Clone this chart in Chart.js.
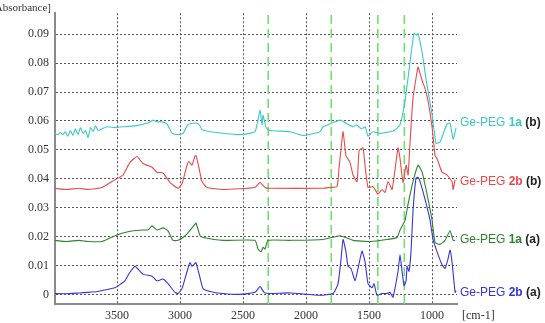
<!DOCTYPE html>
<html>
<head>
<meta charset="utf-8">
<script src="https://cdn.jsdelivr.net/npm/chart.js@4.4.0/dist/chart.umd.min.js"></script>
<style>
  html, body { margin: 0; padding: 0; background: #fff; }
  canvas { display: block; }
</style>
</head>
<body>
<canvas id="irChart" width="545" height="323"></canvas>
<script>
// wavenumber [cm-1] / absorbance pairs
var cyan_wn = [3992,3970,3950,3930,3910,3890,3870,3850,3830,3810,3790,3770,3750,3730,3710,3690,3670,3650,3619,3580,3516,3450,3357,3254,3214,3183,3143,3103,3063,3016,2976,2937,2881,2857,2841,2825,2706,2524,2405,2365,2349,2341,2317,2286,2127,2024,1889,1865,1730,1700,1627,1600,1560,1530,1508,1470,1413,1373,1333,1300,1254,1214,1175,1143,1119,1111,1079,1040,1000,968,937,881,857,833,809];
var cyan_abs = [0.0557,0.0553,0.056,0.0553,0.0563,0.0547,0.0567,0.055,0.0573,0.0553,0.0577,0.0557,0.0567,0.0543,0.0577,0.0563,0.0583,0.0567,0.0573,0.058,0.0577,0.058,0.0583,0.0593,0.0603,0.0597,0.0597,0.059,0.0557,0.0553,0.0557,0.0587,0.0593,0.059,0.0583,0.057,0.056,0.0553,0.0563,0.0637,0.0587,0.062,0.0577,0.0567,0.0563,0.055,0.0563,0.058,0.0603,0.0597,0.058,0.0587,0.0573,0.058,0.0547,0.0563,0.0557,0.056,0.0563,0.0567,0.0587,0.067,0.0803,0.0903,0.0897,0.0903,0.0837,0.0723,0.0623,0.0523,0.0527,0.059,0.0593,0.0537,0.0577];

var red_wn = [3992,3900,3800,3730,3619,3516,3452,3397,3341,3294,3222,3183,3135,3079,3016,2984,2944,2929,2905,2881,2873,2857,2825,2786,2659,2405,2365,2325,2286,1865,1810,1754,1738,1722,1706,1683,1651,1627,1595,1579,1548,1532,1508,1468,1429,1397,1373,1349,1317,1270,1254,1230,1206,1190,1175,1151,1119,1111,1079,1056,1032,1000,976,960,921,881,841,833,817];
var red_abs = [0.0367,0.0363,0.0367,0.0363,0.037,0.0397,0.0413,0.0457,0.0477,0.0453,0.044,0.0423,0.042,0.0387,0.0367,0.0383,0.0447,0.046,0.0447,0.048,0.048,0.0453,0.039,0.037,0.0363,0.037,0.0387,0.037,0.0367,0.0367,0.037,0.0373,0.0437,0.0503,0.0563,0.048,0.0457,0.0413,0.039,0.0497,0.0507,0.0447,0.037,0.0373,0.0347,0.0363,0.0353,0.039,0.0363,0.0507,0.047,0.0387,0.0447,0.0413,0.0523,0.068,0.077,0.0787,0.074,0.0713,0.067,0.058,0.048,0.047,0.0423,0.0413,0.039,0.0363,0.0397];

var green_wn = [3992,3900,3800,3730,3619,3516,3413,3302,3254,3222,3183,3135,3095,3056,3016,2976,2937,2881,2873,2841,2817,2659,2405,2381,2357,2341,2325,2302,2127,1865,1730,1627,1492,1357,1278,1254,1214,1190,1151,1111,1079,1040,1000,976,937,897,857,833,817];
var green_abs = [0.0187,0.0183,0.0187,0.0183,0.0183,0.0203,0.0217,0.0223,0.0223,0.0237,0.0223,0.023,0.022,0.0187,0.0187,0.0197,0.0213,0.0243,0.0247,0.0203,0.0197,0.0187,0.0187,0.0157,0.0147,0.0163,0.0157,0.0187,0.0187,0.019,0.0203,0.0187,0.0183,0.019,0.0197,0.0223,0.0257,0.0313,0.039,0.0447,0.0423,0.0347,0.0257,0.018,0.0173,0.0187,0.022,0.0187,0.0187];

var blue_wn = [3992,3900,3800,3730,3650,3619,3516,3480,3437,3400,3357,3294,3222,3183,3135,3095,3040,3016,2984,2944,2921,2905,2881,2873,2841,2817,2762,2659,2524,2405,2365,2333,2286,2127,1889,1786,1746,1722,1706,1683,1667,1643,1611,1587,1556,1532,1508,1476,1460,1437,1397,1357,1333,1310,1270,1254,1238,1222,1206,1198,1183,1167,1151,1127,1111,1095,1056,1016,992,960,921,897,873,857,841,817,809];
var blue_abs = [0.0003,0.0002,0.0005,0.0007,0.001,0.0013,0.0023,0.0033,0.0047,0.0075,0.0097,0.007,0.0063,0.0047,0.0053,0.0037,0.0007,0.0003,0.002,0.008,0.011,0.0097,0.0107,0.011,0.0057,0.002,0.001,0.0003,0,0.0007,0.0027,0.0007,0.0003,0.0005,-0.0003,0.0003,0.0037,0.0123,0.019,0.0147,0.0097,0.009,0.0047,0.009,0.015,0.0113,0.0037,0.0023,0.0037,-0.0003,0.0003,0.0003,0.0007,-0.001,0.008,0.0137,0.008,0.003,0.0047,0.0097,0.008,0.0147,0.029,0.0403,0.0405,0.039,0.033,0.0257,0.019,0.0147,0.0103,0.009,0.0123,0.0153,0.011,0.0007,0.0013];

var series_names = ['1a', '2b', '1a', '2b'];
var series_tags = ['(b)', '(b)', '(a)', '(a)'];
var series_colors = ['rgb(58,200,204)', 'rgb(236,72,72)', 'rgb(44,132,44)', 'rgb(52,52,220)'];
var label_abs = [0.0593, 0.039, 0.019, 0.0007];

var marker_wn = [2300, 1800, 1430, 1220];
var x_ticks = [3500, 3000, 2500, 2000, 1500, 1000];
var y_ticks = [0, 0.01, 0.02, 0.03, 0.04, 0.05, 0.06, 0.07, 0.08, 0.09];

function pairs(wn, ab) {
  var out = [];
  for (let i = 0; i < wn.length; i++) {
    out.push({x: wn[i], y: ab[i]});
  }
  return out;
}

var all_series = [[cyan_wn, cyan_abs], [red_wn, red_abs], [green_wn, green_abs], [blue_wn, blue_abs]];
var datasets = [];
for (let i = 0; i < all_series.length; i++) {
  datasets.push({
    data: pairs(all_series[i][0], all_series[i][1]),
    borderColor: series_colors[i],
    borderWidth: 1.1,
    pointRadius: 0,
    tension: 0.15,
    fill: false
  });
}
var Y_MIN = -0.00333, Y_MAX = 0.0973;
for (let i = 0; i < marker_wn.length; i++) {
  datasets.push({
    data: [{x: marker_wn[i], y: Y_MIN}, {x: marker_wn[i], y: Y_MAX}],
    borderColor: 'rgb(110,225,110)',
    borderWidth: 1.6,
    borderDash: [9, 5],
    pointRadius: 0,
    fill: false
  });
}

const textPlugin = {
  id: 'textPlugin',
  afterDatasetsDraw(chart) {
    const ctx = chart.ctx;
    const area = chart.chartArea;
    const ys = chart.scales.y;
    ctx.save();
    ctx.textBaseline = 'middle';
    for (let i = 0; i < series_names.length; i++) {
      let x = area.right + 3;
      let y = ys.getPixelForValue(label_abs[i]);
      ctx.font = '12px "Liberation Sans", Arial, sans-serif';
      ctx.fillStyle = series_colors[i];
      ctx.textAlign = 'left';
      ctx.fillText('Ge-PEG ', x, y);
      x += ctx.measureText('Ge-PEG ').width;
      ctx.font = 'bold 12px "Liberation Sans", Arial, sans-serif';
      ctx.fillText(series_names[i], x, y);
      x += ctx.measureText(series_names[i] + ' ').width;
      ctx.fillStyle = '#222';
      ctx.fillText(series_tags[i], x, y);
    }
    ctx.font = '11px "Liberation Serif", "Times New Roman", serif';
    ctx.fillStyle = '#333';
    ctx.textAlign = 'right';
    ctx.fillText('[Absorbance]', 51, 8);
    ctx.font = '12px "Liberation Serif", "Times New Roman", serif';
    ctx.textAlign = 'left';
    ctx.fillText('[cm-1]', area.right + 5, 316);
    ctx.restore();
  }
};

const tickFont = {family: '"Liberation Serif", "Times New Roman", serif', size: 12};

const config = {
  type: 'line',
  data: {datasets: datasets},
  options: {
    responsive: false,
    animation: false,
    layout: {padding: {top: 2, right: 88, left: 0, bottom: 0}},
    plugins: {legend: {display: false}, tooltip: {enabled: false}},
    scales: {
      x: {
        type: 'linear',
        reverse: true,
        min: 802,
        max: 3992,
        afterBuildTicks: function(s) { s.ticks = x_ticks.map(v => ({value: v})); },
        afterFit: function(s) { s.height = 19; },
        ticks: {
          font: tickFont, color: '#333', padding: 5, maxRotation: 0, autoSkip: false,
          callback: function(v) { return String(v); }
        },
        grid: {color: '#555', lineWidth: 1, drawTicks: false},
        border: {color: '#8a8a8a', width: 2, dash: [2, 2]}
      },
      y: {
        type: 'linear',
        min: Y_MIN,
        max: Y_MAX,
        afterBuildTicks: function(s) { s.ticks = y_ticks.map(v => ({value: v})); },
        afterFit: function(s) { s.width = 55; },
        ticks: {
          font: tickFont, color: '#333', padding: 6,
          callback: function(v) { return v === 0 ? '0' : v.toFixed(2); }
        },
        grid: {color: '#555', lineWidth: 1, drawTicks: false},
        border: {color: '#8a8a8a', width: 2, dash: [2, 2]}
      }
    }
  },
  plugins: [textPlugin]
};

const irChart = new Chart(document.getElementById('irChart'), config);
</script>
</body>
</html>
